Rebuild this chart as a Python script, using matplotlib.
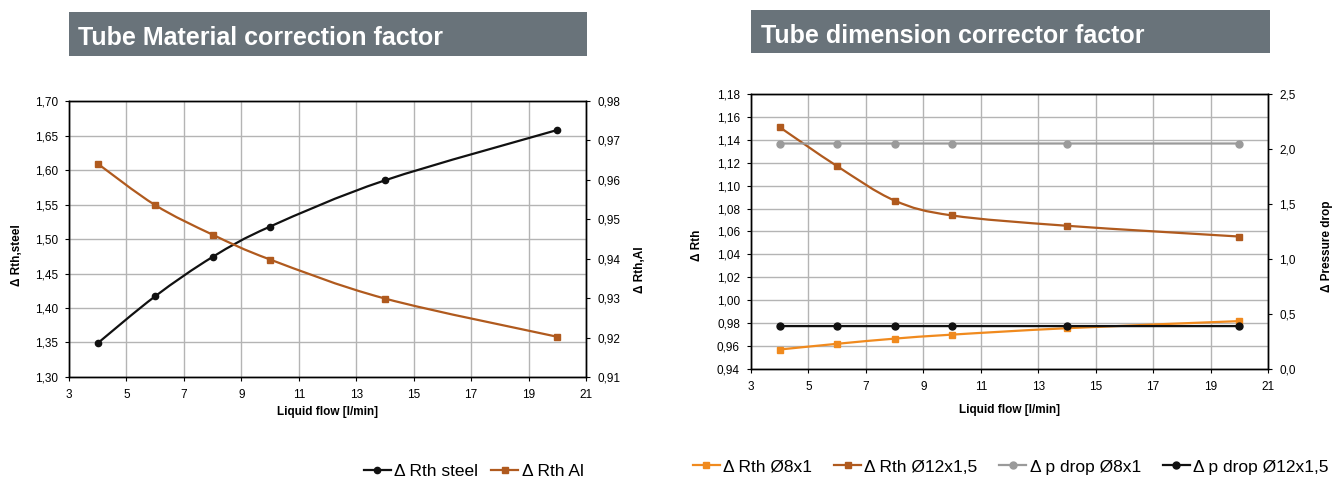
import numpy as np
import matplotlib
matplotlib.use("Agg")
import matplotlib.pyplot as plt
from matplotlib.path import Path
from matplotlib.patches import PathPatch, Rectangle
from matplotlib.lines import Line2D
from matplotlib.ticker import FuncFormatter, MultipleLocator

plt.rcParams['font.family'] = ['Liberation Sans', 'DejaVu Sans']

# Liquid flow [l/min]
flow = [4, 6, 8, 10, 14, 20]
flow_ticks = [3, 5, 7, 9, 11, 13, 15, 17, 19, 21]

# Tube material correction factor
rth_steel = [1.349, 1.417, 1.474, 1.518, 1.585, 1.658]
rth_al = [0.9641, 0.9536, 0.9461, 0.9398, 0.9299, 0.9202]

# Tube dimension corrector factor
rth_8x1 = [0.957, 0.962, 0.9665, 0.970, 0.9756, 0.9818]
rth_12x15 = [1.151, 1.117, 1.087, 1.074, 1.065, 1.0556]
dp_8x1 = [2.05, 2.05, 2.05, 2.05, 2.05, 2.05]
dp_12x15 = [0.39, 0.39, 0.39, 0.39, 0.39, 0.39]

BLACK = '#111111'
BROWN = '#b05a1e'
ORANGE = '#f08a1e'
GREY = '#9a9a9a'
BAR = '#69737a'
GRID = '#b4b4b4'


def smooth_line(ax, x, y, color, lw=1.6):
    # Catmull-Rom style bezier through the points (spreadsheet "smoothed line")
    pts = np.column_stack([x, y]).astype(float)
    n = len(pts)
    verts = [pts[0]]
    codes = [Path.MOVETO]
    for i in range(n - 1):
        p0 = pts[i - 1] if i > 0 else pts[i]
        p1, p2 = pts[i], pts[i + 1]
        p3 = pts[i + 2] if i + 2 < n else pts[i + 1]
        verts += [p1 + (p2 - p0) / 6, p2 - (p3 - p1) / 6, p2]
        codes += [Path.CURVE4] * 3
    ax.add_patch(PathPatch(Path(verts, codes), facecolor='none',
                           edgecolor=color, lw=lw, zorder=3,
                           capstyle='round', joinstyle='round'))


def series(ax, x, y, color, marker, ms):
    smooth_line(ax, x, y, color)
    ax.plot(x, y, ls='none', marker=marker, ms=ms, color=color, zorder=4)


def comma(fmt):
    return FuncFormatter(lambda v, p: (fmt % v).replace('.', ','))


def style_axes(ax, ax2, xlabel_y):
    for a in (ax, ax2):
        for s in a.spines.values():
            s.set_color('black')
            s.set_linewidth(1.0)
        a.tick_params(direction='out', length=3, width=0.8, labelsize=8.5,
                      colors='black', pad=5)
    ax.tick_params(axis='x', pad=6)
    ax.set_xlim(3, 21)
    ax.set_xticks(flow_ticks)
    ax.grid(True, color=GRID, lw=1.0, zorder=0)
    ax.set_axisbelow(True)
    ax.set_xlabel('Liquid flow [l/min]', fontsize=8.5, fontweight='bold',
                  va='center')
    ax.xaxis.set_label_coords(0.5, xlabel_y)


def ylabel(ax, text, x, y):
    ax.set_ylabel(text, fontsize=8.5, fontweight='bold', va='center',
                  ha='center')
    ax.yaxis.set_label_coords(x, y)


def title_bar(fig, x0, x1, y0, y1, text, tx, ty):
    W, H = fig.get_size_inches() * fig.dpi
    fig.patches.append(Rectangle((x0 / W, 1 - y1 / H), (x1 - x0) / W,
                                 (y1 - y0) / H, transform=fig.transFigure,
                                 facecolor=BAR, edgecolor='none'))
    fig.text(tx / W, 1 - ty / H, text, color='white', fontsize=18,
             fontweight='bold', va='baseline', ha='left')


fig = plt.figure(figsize=(13.43, 4.79), dpi=100)
W, H = 1343, 479

# left chart: material
ax1 = fig.add_axes([69 / W, 1 - 377 / H, 517 / W, 276 / H])
ax1b = ax1.twinx()
series(ax1, flow, rth_steel, BLACK, 'o', 4.5)
series(ax1b, flow, rth_al, BROWN, 's', 5)
ax1.set_ylim(1.30, 1.70)
ax1.yaxis.set_major_locator(MultipleLocator(0.05))
ax1.yaxis.set_major_formatter(comma('%.2f'))
ax1b.set_ylim(0.91, 0.98)
ax1b.yaxis.set_major_locator(MultipleLocator(0.01))
ax1b.yaxis.set_major_formatter(comma('%.2f'))
style_axes(ax1, ax1b, -0.127)
ylabel(ax1, 'Δ Rth,steel', -0.1006, 0.442)
ylabel(ax1b, 'Δ Rth,Al', 1.1044, 0.39)

# right chart: dimensions
ax2 = fig.add_axes([751 / W, 1 - 369 / H, 517 / W, 275 / H])
ax2b = ax2.twinx()
series(ax2, flow, rth_8x1, ORANGE, 's', 5)
series(ax2, flow, rth_12x15, BROWN, 's', 5)
series(ax2b, flow, dp_8x1, GREY, 'o', 5)
series(ax2b, flow, dp_12x15, BLACK, 'o', 5)
ax2.set_ylim(0.94, 1.18)
ax2.yaxis.set_major_locator(MultipleLocator(0.02))
ax2.yaxis.set_major_formatter(comma('%.2f'))
ax2b.set_ylim(0, 2.5)
ax2b.yaxis.set_major_locator(MultipleLocator(0.5))
ax2b.yaxis.set_major_formatter(comma('%.1f'))
style_axes(ax2, ax2b, -0.149)
ylabel(ax2, 'Δ Rth', -0.1044, 0.451)
ylabel(ax2b, 'Δ Pressure drop', 1.114, 0.447)

# titles
title_bar(fig, 69, 587, 12, 56, 'Tube Material correction factor', 78, 45)
title_bar(fig, 751, 1270, 10, 53, 'Tube dimension corrector factor', 761, 43)


def handle(color, marker, ms):
    return Line2D([], [], color=color, lw=1.6, marker=marker, ms=ms)


leg_kw = dict(frameon=False, fontsize=12.5, handlelength=1.55,
              handletextpad=0.2, borderaxespad=0, borderpad=0,
              loc='center left')
fig.legend([handle(BLACK, 'o', 4.5), handle(BROWN, 's', 5)],
           ['Δ Rth steel', 'Δ Rth Al'], ncol=2, columnspacing=0.75,
           bbox_to_anchor=(364 / W, 1 - 471 / H), **leg_kw)
fig.legend([handle(ORANGE, 's', 5), handle(BROWN, 's', 5),
            handle(GREY, 'o', 5), handle(BLACK, 'o', 5)],
           ['Δ Rth Ø8x1', 'Δ Rth Ø12x1,5', 'Δ p drop Ø8x1', 'Δ p drop Ø12x1,5'],
           ncol=4, columnspacing=1.25,
           bbox_to_anchor=(693 / W, 1 - 467 / H), **leg_kw)

fig.savefig('out.png', dpi=100)
